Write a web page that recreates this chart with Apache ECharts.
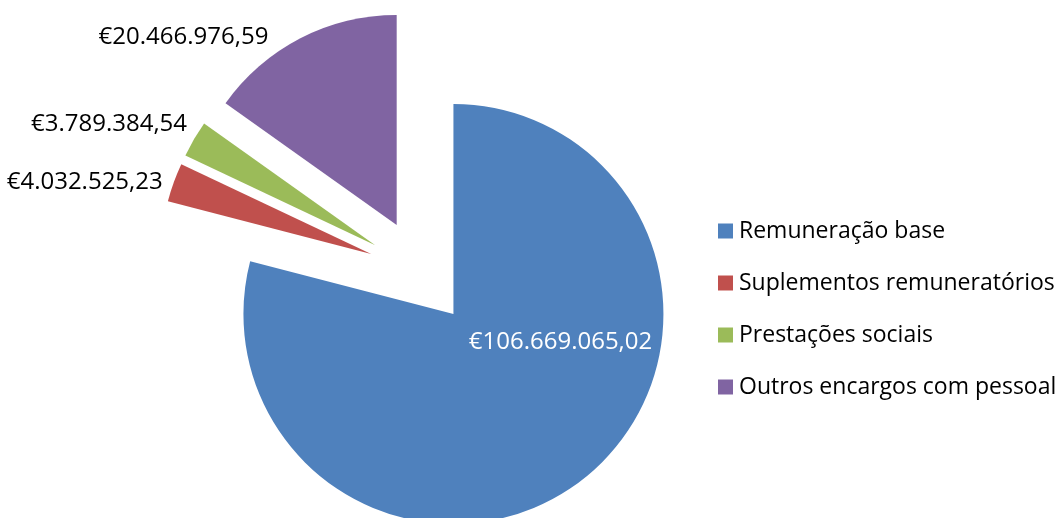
<!DOCTYPE html>
<html>
<head>
<meta charset="utf-8">
<script src="https://cdn.jsdelivr.net/npm/echarts@6/dist/echarts.min.js"></script>
<style>
  html, body { margin: 0; padding: 0; background: #fff; }
  #chart { width: 1059px; height: 518px; }
</style>
</head>
<body>
<div id="chart"></div>
<script>
// categorias e valores (euros)
const categories = ['Remuneração base', 'Suplementos remuneratórios', 'Prestações sociais', 'Outros encargos com pessoal'];
const values = [106669065.02, 4032525.23, 3789384.54, 20466976.59];
const colors = ['#4F81BD', '#C0504D', '#9BBB59', '#8064A2'];

// ajuste fino da posição dos rótulos
const labelShift = [[41, -57], [-11, 0], [-7, -15], [-32, -1]];

const fontFamily = '"Open Sans", sans-serif';

function euro(v) {
    let parts = v.toFixed(2).split('.');
    let inteiro = parts[0].replace(/\B(?=(\d{3})+(?!\d))/g, '.');
    return '€' + inteiro + ',' + parts[1];
}

const chart = echarts.init(document.getElementById('chart'));

const pieData = categories.map((name, i) => {
    let item = {
        name: name,
        value: values[i],
        selected: true,
        itemStyle: { color: colors[i] }
    };
    if (i == 0) {
        item.label = { position: 'inside', color: '#fff' };
    }
    return item;
});

chart.setOption({
    animation: false,
    backgroundColor: '#fff',
    legend: {
        orient: 'vertical',
        left: 713,
        top: 213,
        itemWidth: 15,
        itemHeight: 15,
        itemGap: 26,
        icon: 'rect',
        selectedMode: false,
        textStyle: {
            fontFamily: fontFamily,
            fontSize: 23,
            lineHeight: 26,
            color: '#000',
            padding: [0, 0, 0, 1]
        },
        data: categories
    },
    series: [{
        type: 'pie',
        center: [421, 272],
        radius: 210,
        startAngle: 90,
        clockwise: true,
        selectedMode: 'multiple',
        selectedOffset: 53,
        avoidLabelOverlap: false,
        emphasis: { disabled: true },
        label: {
            show: true,
            position: 'outside',
            formatter: p => euro(p.value),
            fontFamily: fontFamily,
            fontSize: 24,
            color: '#000',
            distanceToLabelLine: 0
        },
        labelLine: { show: false, length: 0, length2: 0 },
        labelLayout: function (params) {
            let s = labelShift[params.dataIndex];
            return { dx: s[0], dy: s[1] };
        },
        data: pieData
    }]
});
</script>
</body>
</html>
